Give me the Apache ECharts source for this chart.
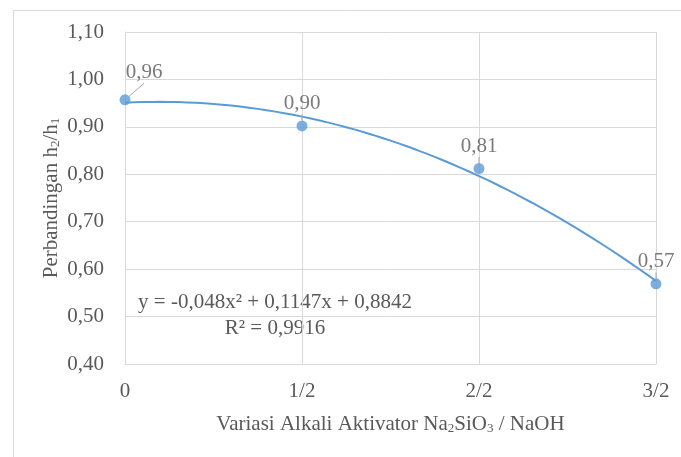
<!DOCTYPE html>
<html lang="id">
<head>
<meta charset="UTF-8">
<title>Perbandingan h2/h1</title>
<script src="https://cdn.jsdelivr.net/npm/echarts@6/dist/echarts.min.js"></script>
<style>
  html, body { margin: 0; padding: 0; background: #fff; }
  #chart { width: 681px; height: 457px; }
</style>
</head>
<body>
<div id="chart"></div>
<script>
// kategori sumbu x (posisi 1..4 seperti Excel)
var categories = ['0', '1/2', '2/2', '3/2'];
var xPos = [1, 2, 3, 4];
// nilai perbandingan h2/h1
var ratios = [0.957, 0.902, 0.812, 0.569];
// koefisien trendline polinomial (dari persamaan pada grafik): a x^2 + b x + c
var trendCoef = [-0.048, 0.1147, 0.8842];
var yTicks = [0.4, 1.1, 0.1];

var font = 'Liberation Serif, Times New Roman, serif';
var textColor = '#595959';
var blue = '#5b9bd5';
var gridColor = '#d9d9d9';

var pts = [];
for (var i = 0; i < ratios.length; i++) pts.push([xPos[i], ratios[i]]);

// garis trend digambar dari persamaan yang tertera
var trend = [];
for (var x = 1; x <= 4.0001; x += 0.05) {
  trend.push([x, trendCoef[0] * x * x + trendCoef[1] * x + trendCoef[2]]);
}

function koma(v) { return v.toFixed(2).replace('.', ','); }

var chart = echarts.init(document.getElementById('chart'));
chart.setOption({
  animation: false,
  textStyle: { fontFamily: font, color: textColor },
  grid: { left: 125, right: 25, top: 32, bottom: 93 },
  xAxis: {
    type: 'value', min: 1, max: 4, interval: 1,
    axisLine: { show: true, lineStyle: { color: gridColor } },
    axisTick: { show: false },
    splitLine: { show: true, lineStyle: { color: gridColor, width: 1 } },
    axisLabel: {
      margin: 17, fontSize: 21, color: textColor, fontFamily: font,
      formatter: function (v) { return categories[Math.round(v) - 1]; }
    },
    name: 'Variasi Alkali Aktivator Na{s|2}SiO{s|3} / NaOH',
    nameLocation: 'middle', nameGap: 49,
    nameTextStyle: {
      fontSize: 21, color: textColor, fontFamily: font, lineHeight: 22,
      rich: { s: { fontSize: 13, lineHeight: 8, verticalAlign: 'bottom', color: textColor, fontFamily: font } }
    }
  },
  yAxis: {
    type: 'value', min: yTicks[0], max: yTicks[1], interval: yTicks[2],
    axisLine: { show: true, lineStyle: { color: gridColor } },
    axisTick: { show: false },
    splitLine: { show: true, lineStyle: { color: gridColor, width: 1 } },
    axisLabel: {
      margin: 21, fontSize: 21, color: textColor, fontFamily: font,
      formatter: koma
    },
    name: 'Perbandingan h{s|2}/h{s|1}',
    nameLocation: 'middle', nameGap: 63, nameMoveOverlap: false,
    nameTextStyle: {
      fontSize: 21, color: textColor, fontFamily: font, lineHeight: 22,
      rich: { s: { fontSize: 13, lineHeight: 8, verticalAlign: 'bottom', color: textColor, fontFamily: font } }
    }
  },
  graphic: [
    {
      type: 'rect', left: 11, top: 8, z: -1,
      shape: { width: 680, height: 460 },
      style: { fill: 'none', stroke: gridColor, lineWidth: 1 }
    },
    {
      type: 'text', x: 275, y: 302,
      style: {
        text: 'y = -0,048x² + 0,1147x + 0,8842',
        font: '21px ' + font, fill: textColor,
        align: 'center', verticalAlign: 'middle'
      }
    },
    {
      type: 'text', x: 275, y: 328,
      style: {
        text: 'R² = 0,9916',
        font: '21px ' + font, fill: textColor,
        align: 'center', verticalAlign: 'middle'
      }
    }
  ],
  series: [
    {
      type: 'line', data: trend, showSymbol: false, smooth: false,
      lineStyle: { color: blue, width: 2 }, z: 2, silent: true
    },
    {
      type: 'scatter', data: pts, symbolSize: 11, z: 3,
      itemStyle: { color: blue },
      label: {
        show: true, position: 'top', distance: 6,
        fontSize: 21, color: textColor, fontFamily: font,
        formatter: function (p) { return koma(p.value[1]); }
      },
      labelLine: { show: true, lineStyle: { color: '#a6a6a6', width: 1 } },
      labelLayout: function (p) {
        if (p.dataIndex === 0) return { dx: 19, dy: -5 };
        return {};
      }
    }
  ]
});
</script>
</body>
</html>
